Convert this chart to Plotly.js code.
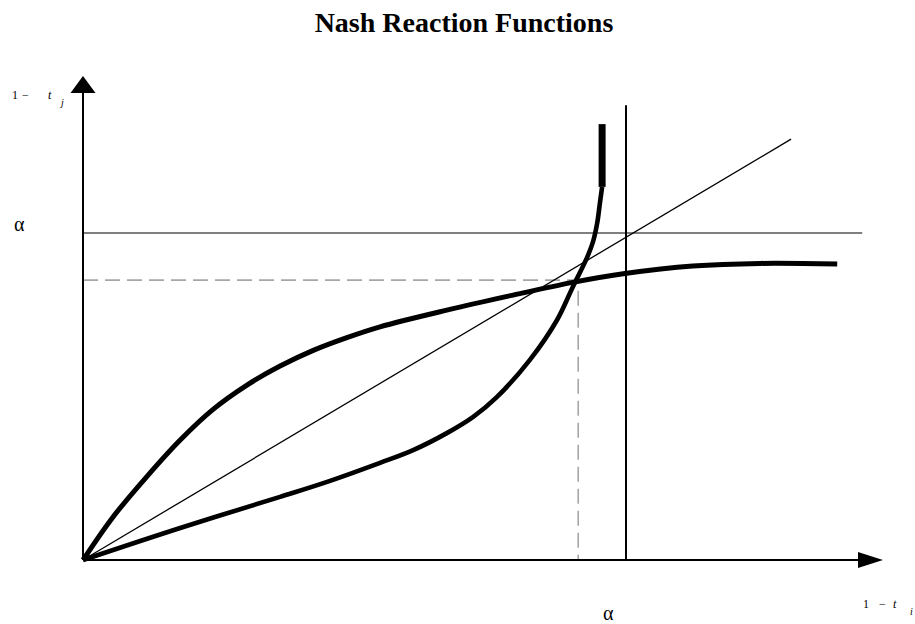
<!DOCTYPE html>
<html>
<head>
<meta charset="utf-8">
<script src="https://cdn.plot.ly/plotly-3.0.1.min.js"></script>
<style>html,body{margin:0;padding:0;background:#fff;}#chart{width:915px;height:624px;}</style>
</head>
<body>
<div id="chart"></div>
<script>
// ---- data (units: alpha = 1 on both axes) ----
const reactionAx = [0, 0.055, 0.118, 0.179, 0.239, 0.302, 0.363, 0.424, 0.486, 0.547, 0.670, 0.792, 0.902, 0.998, 1.123, 1.247, 1.389];
const reactionAy = [0, 0.131, 0.256, 0.367, 0.460, 0.535, 0.593, 0.641, 0.680, 0.713, 0.764, 0.810, 0.849, 0.876, 0.899, 0.907, 0.905];
const reactionBx = [0, 0.179, 0.363, 0.455, 0.547, 0.608, 0.670, 0.718, 0.762, 0.823, 0.873, 0.902, 0.928, 0.939, 0.947, 0.952, 0.956];
const reactionBy = [0, 0.098, 0.193, 0.242, 0.297, 0.336, 0.388, 0.437, 0.498, 0.612, 0.734, 0.835, 0.924, 0.972, 1.031, 1.092, 1.141];
const reactionBTopX = [0.956, 0.956];
const reactionBTopY = [1.141, 1.333];
const diagonalX = [0, 1.304];
const diagonalY = [0, 1.287];
const alphaLevel = 1;
const alphaHLineEnd = 1.435;
const alphaVLineTop = 1.391;
const nashX = 0.912;
const nashY = 0.856;
const xAxisTip = 1.4733, xAxisArrowBase = 1.4273;
const yAxisTip = 1.4801, yAxisArrowBase = 1.4281;
const titleText = 'Nash Reaction Functions';
const alphaLabel = 'α';

// ---- layout geometry ----
const L = 60, R = 15, T = 60, B = 50, FW = 915, FH = 624;
const W = FW - L - R, H = FH - T - B;
const pxPerX = 543, pxPerY = 327, ox = 83, oy = 560;
const xr = [(L - ox) / pxPerX, (FW - R - ox) / pxPerX];
const yr = [(oy - (FH - B)) / pxPerY, (oy - T) / pxPerY];
const px = v => (v - L) / W;
const py = v => (FH - B - v) / H;

const black = '#000000';
const traces = [
  {x: [0, nashX, nashX], y: [nashY, nashY, 0], mode: 'lines',
   line: {color: '#a6a6a6', width: 1.6, dash: '15px,7px'}, hoverinfo: 'skip'},
  {x: [0, alphaHLineEnd], y: [alphaLevel, alphaLevel], mode: 'lines',
   line: {color: '#555555', width: 1.4}, hoverinfo: 'skip'},
  {x: [alphaLevel, alphaLevel], y: [0, alphaVLineTop], mode: 'lines',
   line: {color: black, width: 2}, hoverinfo: 'skip'},
  {x: diagonalX, y: diagonalY, mode: 'lines',
   line: {color: black, width: 1.3}, hoverinfo: 'skip'},
  {x: reactionAx, y: reactionAy, mode: 'lines',
   line: {color: black, width: 5, shape: 'spline', smoothing: 1}, hoverinfo: 'skip'},
  {x: reactionBx, y: reactionBy, mode: 'lines',
   line: {color: black, width: 4.6, shape: 'spline', smoothing: 1}, hoverinfo: 'skip'},
  {x: reactionBTopX, y: reactionBTopY, mode: 'lines',
   line: {color: black, width: 7}, hoverinfo: 'skip'}
];

const hx = 8 / pxPerY, hy = 12.5 / pxPerX;
const shapes = [
  {type: 'line', xref: 'x', yref: 'y', x0: 0, y0: 0, x1: xAxisArrowBase, y1: 0, line: {color: black, width: 2}},
  {type: 'line', xref: 'x', yref: 'y', x0: 0, y0: 0, x1: 0, y1: yAxisArrowBase, line: {color: black, width: 2}},
  {type: 'path', xref: 'x', yref: 'y',
   path: `M ${xAxisTip},0 L ${xAxisArrowBase},${hx} L ${xAxisArrowBase},${-hx} Z`,
   fillcolor: black, line: {color: black, width: 0}},
  {type: 'path', xref: 'x', yref: 'y',
   path: `M 0,${yAxisTip} L ${-hy},${yAxisArrowBase} L ${hy},${yAxisArrowBase} Z`,
   fillcolor: black, line: {color: black, width: 0}}
];

const serif = 'Liberation Serif, Times New Roman, serif';
function lab(text, x, y, size) {
  return {text: text, xref: 'paper', yref: 'paper', x: px(x), y: py(y),
    xanchor: 'center', yanchor: 'middle', showarrow: false,
    font: {family: serif, size: size, color: black}};
}
const annotations = [
  lab(alphaLabel, 19, 224, 20),
  lab(alphaLabel, 608, 613, 20),
  lab('1', 14.5, 95, 12), lab('−', 25, 95, 12), lab('<i>t</i>', 49.5, 95, 12), lab('<i>j</i>', 61, 102, 10),
  lab('1', 865.5, 604, 12), lab('−', 882.5, 604, 12), lab('<i>t</i>', 894.5, 604, 12), lab('<i>i</i>', 911.5, 611, 10)
];

const layout = {
  width: FW, height: FH,
  margin: {l: L, r: R, t: T, b: B},
  paper_bgcolor: '#ffffff', plot_bgcolor: '#ffffff',
  showlegend: false,
  title: {text: '<b>' + titleText + '</b>', font: {family: serif, size: 28, color: black},
          x: 464 / FW, xanchor: 'center', xref: 'container',
          y: 1 - 22 / FH, yanchor: 'middle', yref: 'container'},
  xaxis: {range: xr, showgrid: false, zeroline: false, showline: false, showticklabels: false, ticks: '', fixedrange: true},
  yaxis: {range: yr, showgrid: false, zeroline: false, showline: false, showticklabels: false, ticks: '', fixedrange: true},
  shapes: shapes,
  annotations: annotations
};
Plotly.newPlot('chart', traces, layout, {displayModeBar: false, staticPlot: true});
</script>
</body>
</html>
